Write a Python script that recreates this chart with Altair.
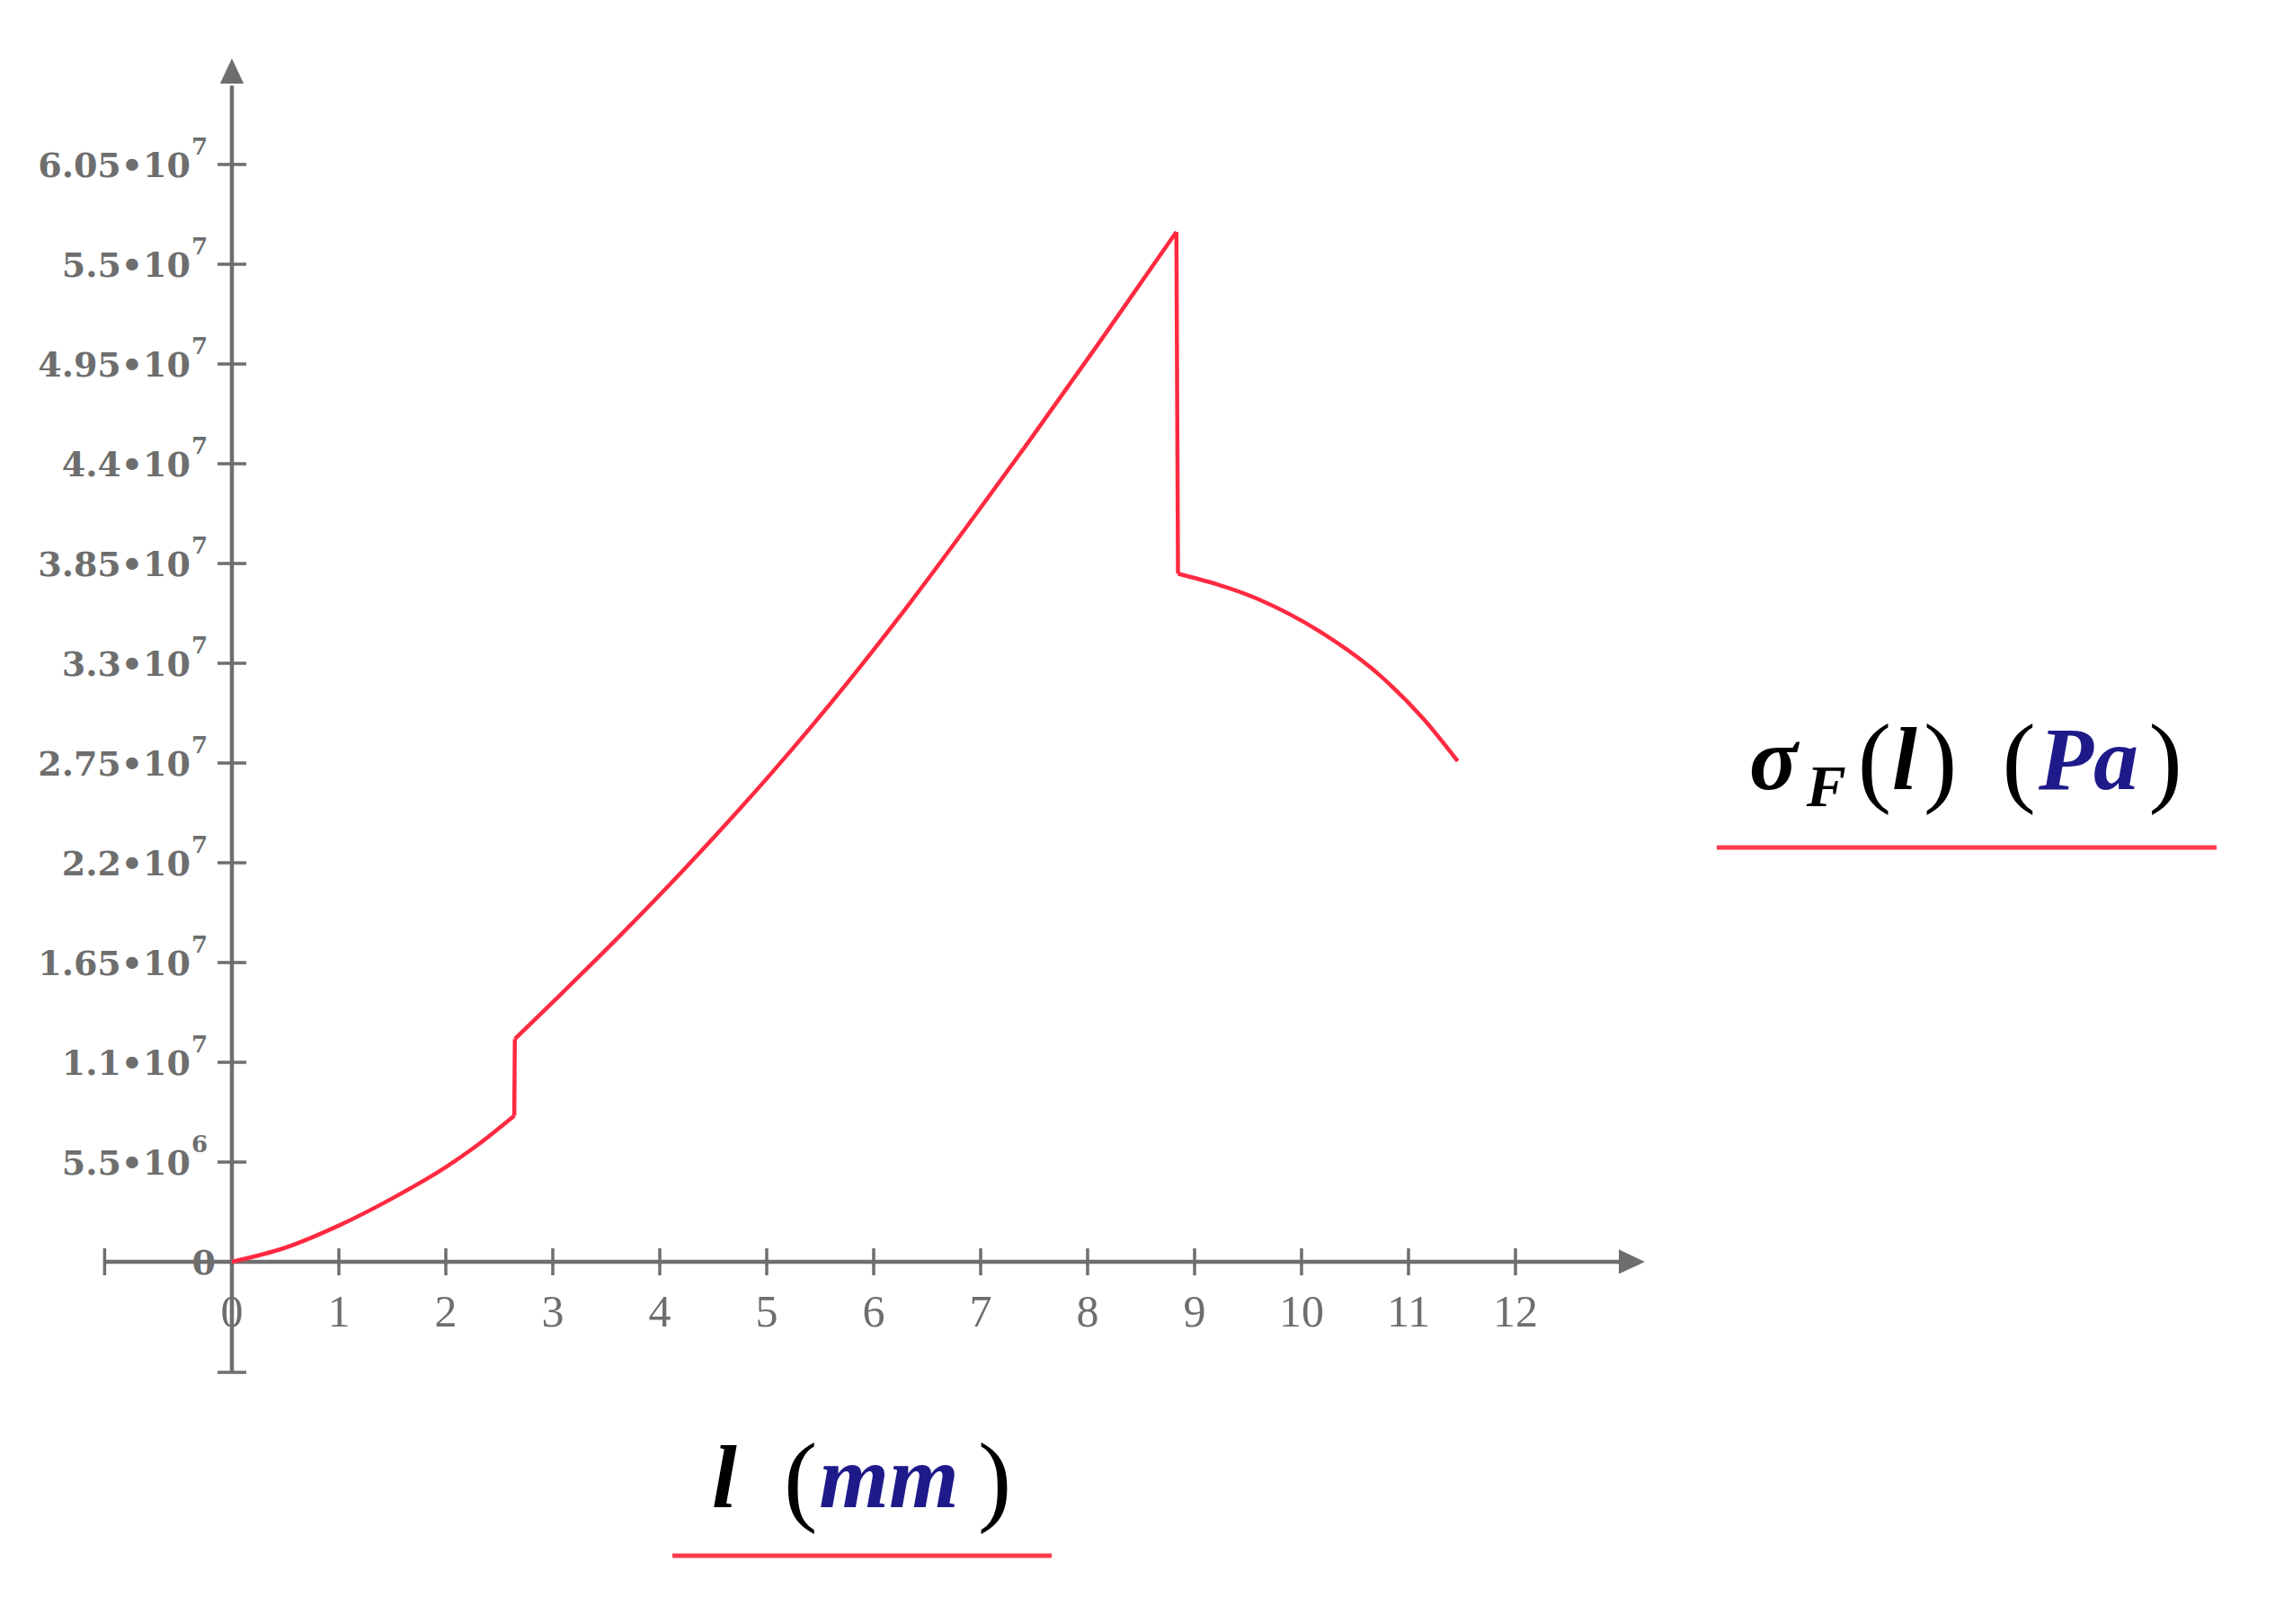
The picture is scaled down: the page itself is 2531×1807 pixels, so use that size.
import altair as alt
import pandas as pd

# ---------------- data ----------------
# sigma_F(l) curve, l in mm, sigma in Pa; three continuous branches
L_MM = [0.0, 0.5, 1.0, 1.5, 2.0, 2.3, 2.64,
        2.645, 3.084, 3.63, 4.246, 4.75, 5.031, 5.423, 6.235, 6.935, 7.45, 8.112, 8.83,
        8.845, 9.597, 10.157, 10.717, 11.137, 11.46]
SIGMA_PA = [0.0, 0.78e6, 2.0e6, 3.5e6, 5.22e6, 6.45e6, 8.05e6,
            1.228e7, 1.48e7, 1.799e7, 2.175e7, 2.498e7, 2.685e7, 2.955e7, 3.552e7, 4.105e7,
            4.522e7, 5.071e7, 5.678e7,
            3.794e7, 3.653e7, 3.48e7, 3.241e7, 2.995e7, 2.76e7]
BRANCH = [1] * 7 + [2] * 12 + [3] * 6

Y_TICKS = [5.5e6, 1.1e7, 1.65e7, 2.2e7, 2.75e7, 3.3e7, 3.85e7, 4.4e7, 4.95e7, 5.5e7, 6.05e7]
Y_TICK_MANT = ["5.5•10", "1.1•10", "1.65•10", "2.2•10", "2.75•10", "3.3•10",
               "3.85•10", "4.4•10", "4.95•10", "5.5•10", "6.05•10"]
Y_TICK_EXP = ["6", "7", "7", "7", "7", "7", "7", "7", "7", "7", "7"]
X_TICKS = [0, 1, 2, 3, 4, 5, 6, 7, 8, 9, 10, 11, 12]
X_TICK_LABELS = ["0", "1", "2", "3", "4", "5", "6", "7", "8", "9", "10", "11", "12"]

# extents of the drawn axes (data units)
X_AXIS_RANGE = [-1.19, 13.21]
Y_AXIS_RANGE = [-6.09e6, 6.635e7]

# ---------------- layout / style ----------------
X_DOMAIN = [-2.1008, 19.0336]
Y_DOMAIN = [-1.9523e7, 6.9171e7]
W, H = 2515, 1790
GRAY = "#6e6e6e"
RED = "#ff2a40"
NAVY = "#1f1a8a"
BLACK = "#000000"


def X(field):
    return alt.X(field, type="quantitative",
                 scale=alt.Scale(domain=X_DOMAIN, nice=False, zero=False), axis=None)


def Y(field):
    return alt.Y(field, type="quantitative",
                 scale=alt.Scale(domain=Y_DOMAIN, nice=False, zero=False), axis=None)


curve = pd.DataFrame({"l": L_MM, "s": SIGMA_PA, "b": BRANCH, "i": list(range(len(L_MM)))})

# vertical jumps: last point of a branch joined to the first point of the next
jump_rows = []
for k in range(len(L_MM) - 1):
    if BRANCH[k] != BRANCH[k + 1]:
        jump_rows.append({"l": L_MM[k], "s": SIGMA_PA[k], "j": k, "i": 0})
        jump_rows.append({"l": L_MM[k + 1], "s": SIGMA_PA[k + 1], "j": k, "i": 1})
jumps = pd.DataFrame(jump_rows)

ytk = pd.DataFrame({"x": [0] * len(Y_TICKS), "y": Y_TICKS, "m": Y_TICK_MANT, "e": Y_TICK_EXP})
xtk = pd.DataFrame({"x": X_TICKS, "y": [0] * len(X_TICKS), "t": X_TICK_LABELS})

# axis lines
x_axis = alt.Chart(pd.DataFrame({"x": [X_AXIS_RANGE[0]], "x2": [X_AXIS_RANGE[1] - 0.15], "y": [0]})).mark_rule(
    color=GRAY, strokeWidth=4.5).encode(x=X("x"), x2="x2:Q", y=Y("y"))
y_axis = alt.Chart(pd.DataFrame({"x": [0], "y": [Y_AXIS_RANGE[0]], "y2": [Y_AXIS_RANGE[1] - 1.5e6]})).mark_rule(
    color=GRAY, strokeWidth=4.5).encode(x=X("x"), y=Y("y"), y2="y2:Q")

# ticks (plus end caps)
x_ticks = alt.Chart(pd.DataFrame({"x": X_TICKS + [X_AXIS_RANGE[0]], "y": [0] * (len(X_TICKS) + 1)})).mark_tick(
    orient="vertical", size=30, thickness=3.5, color=GRAY, opacity=1).encode(x=X("x"), y=Y("y"))
y_ticks = alt.Chart(pd.DataFrame({"x": [0] * (len(Y_TICKS) + 1), "y": Y_TICKS + [Y_AXIS_RANGE[0]]})).mark_tick(
    orient="horizontal", size=32, thickness=3.5, color=GRAY, opacity=1).encode(x=X("x"), y=Y("y"))

# arrow heads (tip at the data point)
x_arrow = alt.Chart(pd.DataFrame({"x": [X_AXIS_RANGE[1]], "y": [0]})).mark_point(
    shape="M 0 0 L -1 -0.47 L -1 0.47 Z", size=3364, filled=True, color=GRAY, opacity=1, strokeWidth=0
).encode(x=X("x"), y=Y("y"))
y_arrow = alt.Chart(pd.DataFrame({"x": [0], "y": [Y_AXIS_RANGE[1]]})).mark_point(
    shape="M 0 0 L -0.47 1 L 0.47 1 Z", size=3136, filled=True, color=GRAY, opacity=1, strokeWidth=0
).encode(x=X("x"), y=Y("y"))

# tick labels
y_mant = alt.Chart(ytk).mark_text(align="right", baseline="alphabetic", dx=-46, dy=14,
                                  font="DejaVu Serif", fontWeight="bold", fontSize=38, color=GRAY
                                  ).encode(x=X("x"), y=Y("y"), text="m:N")
y_exp = alt.Chart(ytk).mark_text(align="right", baseline="alphabetic", dx=-27, dy=-11,
                                 font="DejaVu Serif", fontWeight="bold", fontSize=26, color=GRAY
                                 ).encode(x=X("x"), y=Y("y"), text="e:N")
y_zero = alt.Chart(pd.DataFrame({"x": [0], "y": [0], "t": ["0"]})).mark_text(
    align="right", baseline="alphabetic", dx=-18, dy=14,
    font="DejaVu Serif", fontWeight="bold", fontSize=38, color=GRAY
).encode(x=X("x"), y=Y("y"), text="t:N")
x_lab = alt.Chart(xtk).mark_text(align="center", baseline="alphabetic", dy=72,
                                 font="Liberation Serif", fontSize=50, color=GRAY
                                 ).encode(x=X("x"), y=Y("y"), text="t:N")

# curve: smooth branches + vertical jumps
branches = alt.Chart(curve).mark_line(color=RED, strokeWidth=4.5, interpolate="monotone").encode(
    x=X("l"), y=Y("s"), detail="b:N", order="i:Q")
jump_lines = alt.Chart(jumps).mark_line(color=RED, strokeWidth=4.5).encode(
    x=X("l"), y=Y("s"), detail="j:N", order="i:Q")

# axis titles (math-style, built from pieces)
t_main = pd.DataFrame({"x": [14.185, 15.52, 4.487], "y": [2.606e7, 2.606e7, -1.3527e7],
                       "t": ["σ", "l", "l"]})
t_sub = pd.DataFrame({"x": [14.72], "y": [2.512e7], "t": ["F"]})
t_par = pd.DataFrame({"x": [15.20, 15.815, 16.55, 17.92, 5.16, 6.975],
                      "y": [2.582e7, 2.582e7, 2.582e7, 2.582e7, -1.3824e7, -1.3824e7],
                      "t": ["(", ")", "(", ")", "(", ")"]})
t_unit = pd.DataFrame({"x": [16.89, 5.49], "y": [2.606e7, -1.3527e7], "t": ["Pa", "mm"]})

title_main = alt.Chart(t_main).mark_text(align="left", baseline="alphabetic", font="Liberation Serif",
                                         fontStyle="italic", fontWeight="bold", fontSize=100, color=BLACK
                                         ).encode(x=X("x"), y=Y("y"), text="t:N")
title_sub = alt.Chart(t_sub).mark_text(align="left", baseline="alphabetic", font="Liberation Serif",
                                       fontStyle="italic", fontWeight="bold", fontSize=66, color=BLACK
                                       ).encode(x=X("x"), y=Y("y"), text="t:N")
title_par = alt.Chart(t_par).mark_text(align="left", baseline="alphabetic", font="Liberation Serif",
                                       fontSize=112, color=BLACK
                                       ).encode(x=X("x"), y=Y("y"), text="t:N")
title_unit = alt.Chart(t_unit).mark_text(align="left", baseline="alphabetic", font="Liberation Serif",
                                         fontStyle="italic", fontWeight="bold", fontSize=100, color=NAVY
                                         ).encode(x=X("x"), y=Y("y"), text="t:N")

underlines = alt.Chart(pd.DataFrame({"x": [13.882, 4.118], "x2": [18.555, 7.664],
                                     "y": [2.2843e7, -1.6203e7]})).mark_rule(
    color="#ff3a4c", strokeWidth=5).encode(x=X("x"), x2="x2:Q", y=Y("y"))

chart = alt.layer(
    x_axis, y_axis, x_ticks, y_ticks, x_arrow, y_arrow,
    y_mant, y_exp, y_zero, x_lab, branches, jump_lines,
    title_main, title_sub, title_par, title_unit, underlines
).properties(
    width=W, height=H, padding=0, background="white",
    autosize=alt.AutoSizeParams(type="none")
).configure_view(stroke=None)

chart.save("out.html", embed_options={"renderer": "svg", "actions": False})
